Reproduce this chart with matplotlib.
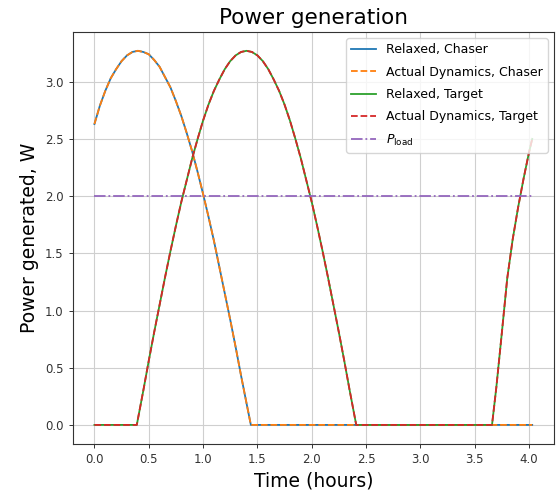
import numpy as np
import matplotlib
matplotlib.use("Agg")
import matplotlib.pyplot as plt

# Chaser power (W) vs time (hours)
t_chaser = [0.00, 0.05, 0.10, 0.15, 0.20, 0.25, 0.30, 0.35, 0.40, 0.45,
            0.50, 0.55, 0.60, 0.65, 0.70, 0.75, 0.80, 0.85, 0.90, 0.95,
            1.00, 1.05, 1.10, 1.15, 1.20, 1.25, 1.30, 1.35, 1.40, 1.44,
            2.00, 3.00, 4.03]
p_chaser = [2.63, 2.79, 2.92, 3.03, 3.11, 3.18, 3.23, 3.26, 3.27, 3.26,
            3.24, 3.19, 3.13, 3.04, 2.95, 2.83, 2.70, 2.55, 2.39, 2.21,
            2.02, 1.82, 1.61, 1.38, 1.15, 0.92, 0.68, 0.43, 0.19, 0.00,
            0.00, 0.00, 0.00]

# Target power (W) vs time (hours)
t_target = [0.00, 0.20, 0.39, 0.45, 0.50, 0.55, 0.60, 0.65, 0.70, 0.75,
            0.80, 0.85, 0.90, 0.95, 1.00, 1.05, 1.10, 1.15, 1.20, 1.25,
            1.30, 1.35, 1.40, 1.45, 1.50, 1.55, 1.60, 1.65, 1.70, 1.75,
            1.80, 1.85, 1.90, 1.95, 2.00, 2.05, 2.10, 2.15, 2.20, 2.25,
            2.30, 2.35, 2.41, 3.00, 3.66, 3.70, 3.75, 3.80, 3.85, 3.90,
            3.95, 4.00, 4.03]
p_target = [0.00, 0.00, 0.00, 0.30, 0.56, 0.81, 1.05, 1.29, 1.52, 1.74,
            1.95, 2.14, 2.33, 2.50, 2.66, 2.80, 2.92, 3.02, 3.11, 3.18,
            3.23, 3.26, 3.27, 3.26, 3.23, 3.18, 3.11, 3.02, 2.92, 2.80,
            2.66, 2.50, 2.33, 2.14, 1.95, 1.74, 1.52, 1.29, 1.05, 0.81,
            0.56, 0.30, 0.00, 0.00, 0.00, 0.33, 0.80, 1.28, 1.62, 1.90,
            2.15, 2.38, 2.50]

# Load demand
t_load = [0.00, 4.03]
p_load = [2.0, 2.0]

fig = plt.figure(figsize=(5.58, 4.94), dpi=100)
ax = fig.add_axes([0.13, 0.102, 0.863, 0.833])

lw = 1.3
ax.plot(t_chaser, p_chaser, color="C0", lw=lw, label="Relaxed, Chaser")
ax.plot(t_chaser, p_chaser, "--", color="C1", lw=lw, label="Actual Dynamics, Chaser")
ax.plot(t_target, p_target, color="C2", lw=lw, label="Relaxed, Target")
ax.plot(t_target, p_target, "--", color="C3", lw=lw, label="Actual Dynamics, Target")
ax.plot(t_load, p_load, "-.", color="C4", lw=lw, label=r"$P_{\mathrm{load}}$")

ax.set_title("Power generation", fontsize=15.5)
ax.set_xlabel("Time (hours)", fontsize=13.5)
ax.set_ylabel("Power generated, W", fontsize=13.5)
ax.tick_params(labelsize=8.5, length=3, width=0.7, colors="#333333")
for s in ax.spines.values():
    s.set_linewidth(0.8)
    s.set_color("#333333")
ax.grid(True, lw=0.8, color="#cfcfcf")
ax.legend(fontsize=9, loc="upper right", labelspacing=0.75)

fig.savefig("out.png", dpi=100)
